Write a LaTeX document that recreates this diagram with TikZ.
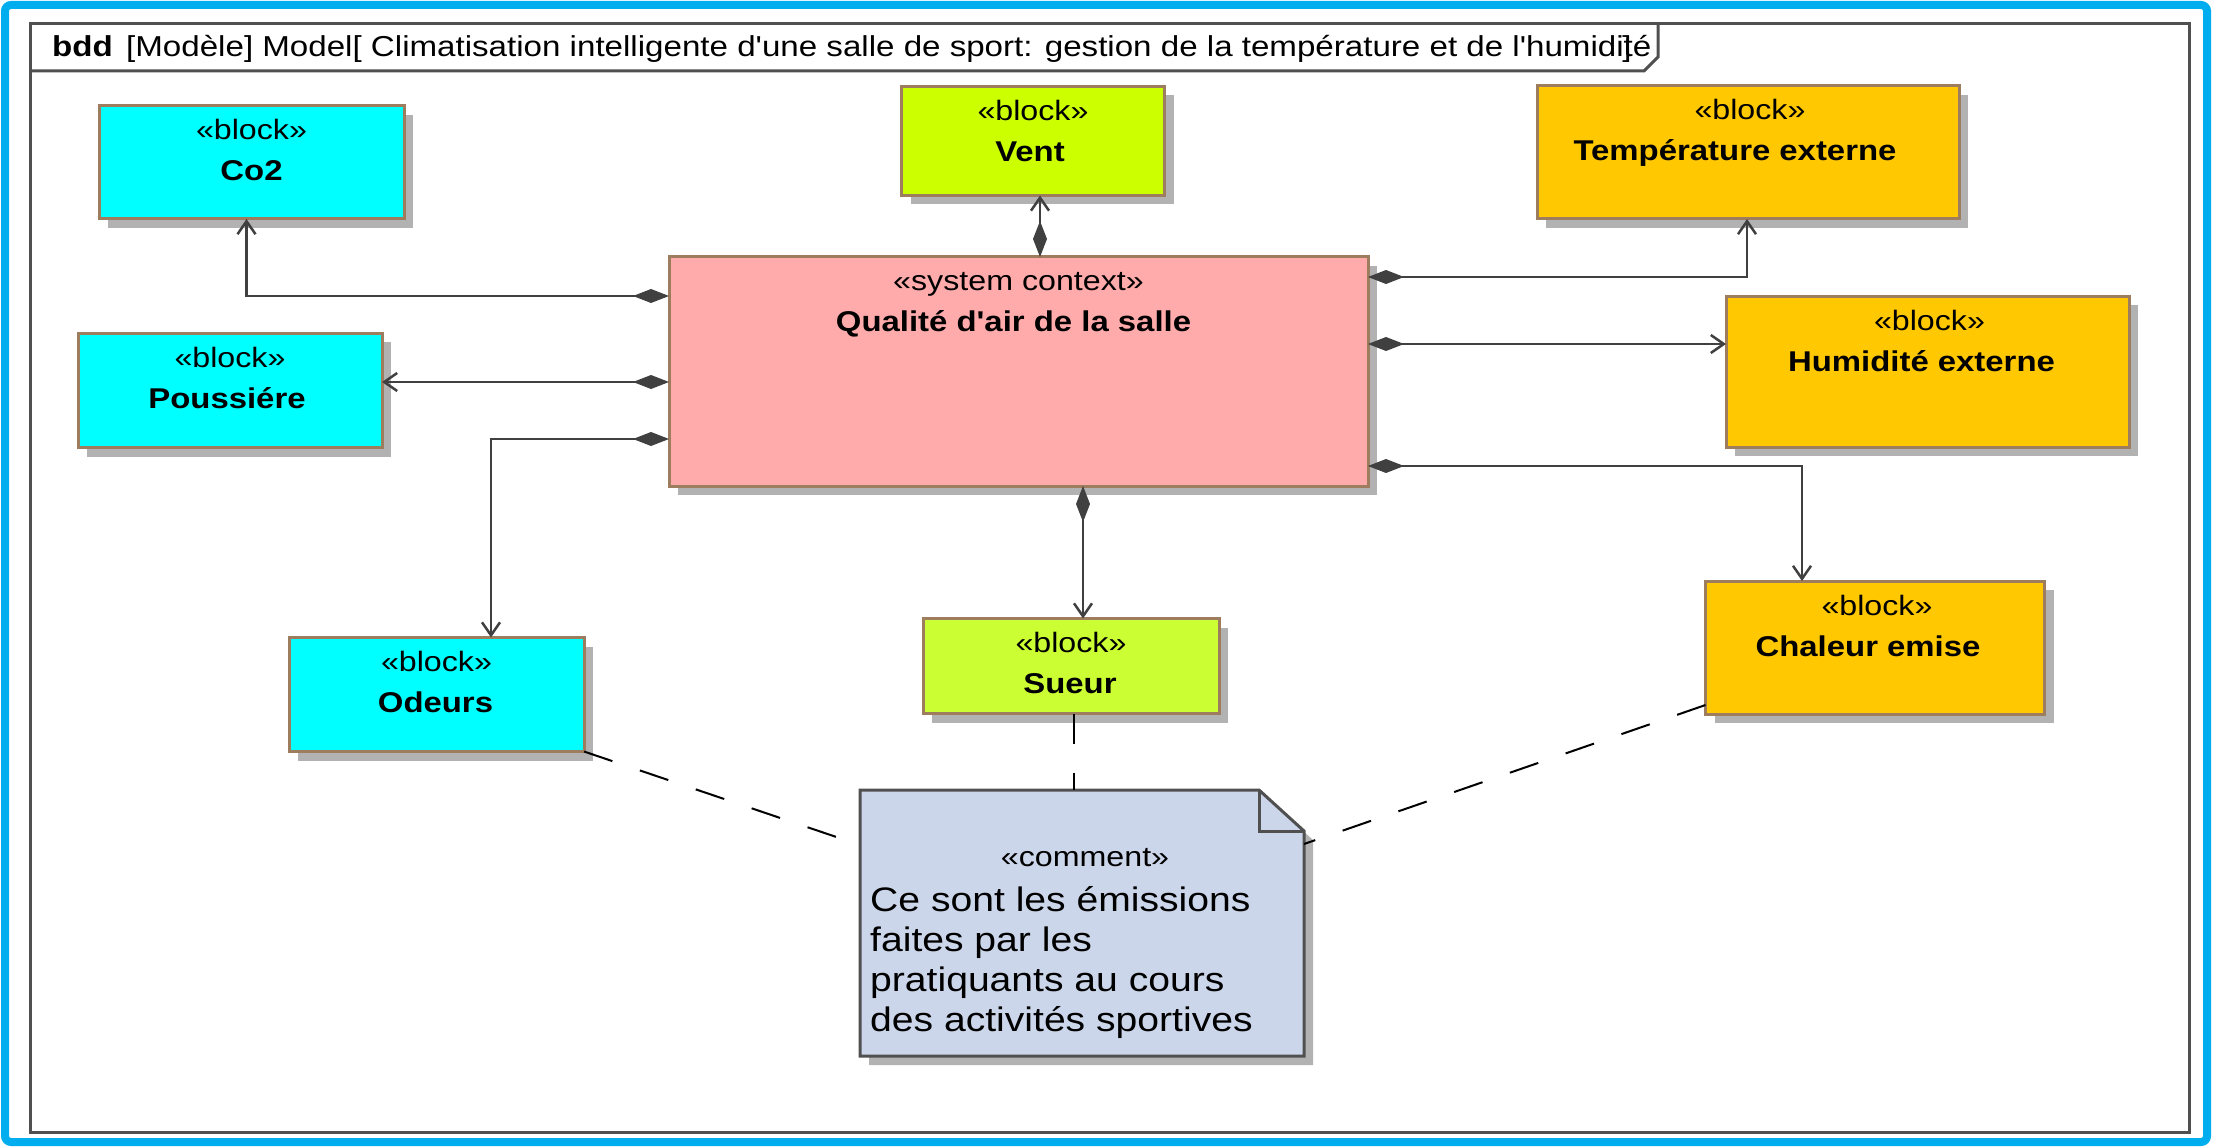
\documentclass[tikz,border=0pt]{standalone}
\usepackage{fontspec}
\newfontfamily\lib[FakeStretch=1.15]{Liberation Sans}
\usetikzlibrary{arrows.meta,calc,shadows}
\definecolor{cyanb}{HTML}{00FFFF}
\definecolor{ventc}{HTML}{CCFF00}
\definecolor{sueurc}{HTML}{CCFF33}
\definecolor{orangec}{HTML}{FFC800}
\definecolor{pinkc}{HTML}{FFABAB}
\definecolor{notec}{HTML}{CCD6EA}
\definecolor{brownc}{HTML}{9E7D5E}
\definecolor{shadowc}{HTML}{B2B2B2}
\definecolor{linec}{HTML}{404040}
\definecolor{bluec}{HTML}{00AEEF}
\definecolor{framec}{HTML}{505050}
\newcommand\fstereo{\lib\fontsize{28}{34}\selectfont}
\newcommand\fname{\lib\bfseries\fontsize{28.6}{34}\selectfont}
\newcommand\ftitle{\lib\fontsize{28.8}{34}\selectfont}
\newcommand\fnote{\lib\fontsize{34}{40}\selectfont}
\begin{document}
\begin{tikzpicture}[x=1pt,y=-1pt,
  block/.style={draw=brownc, line width=3pt, inner sep=0pt, outer sep=0pt,
    drop shadow={shadow xshift=9pt, shadow yshift=-9pt, fill=shadowc, opacity=1}},
  st/.style={inner sep=0pt, anchor=base, font=\fstereo},
  nm/.style={inner sep=0pt, anchor=base, font=\fname},
  compo/.style={draw=linec, line width=2.5pt,
    {Diamond[length=36pt,width=14pt]}-{Straight Barb[length=13pt,width=18pt]}},
  anch/.style={draw=black, line width=2pt, dash pattern=on 30pt off 29pt},
  frame/.style={draw=framec, line width=3pt}
]
\useasboundingbox (0,0) rectangle (2213,1147);
\fill[white] (0,0) rectangle (2213,1147);
\draw[bluec, line width=8pt, rounded corners=6pt] (5,5) rectangle (2207,1142);
\draw[frame] (30,24) rectangle (2189,1132);
\draw[frame] (30,71) -- (1644,71) -- (1658,57) -- (1658,24);
\node[inner sep=0pt, anchor=base west, font=\ftitle\bfseries] (bdd) at (52,57) {bdd};
\node[inner sep=0pt, anchor=base west, font=\ftitle] (title) at (126,57) {[Modèle] Model[ Climatisation intelligente d'une salle de sport: gestion de la température et de l'humidité};
\node[inner sep=0pt, anchor=base, font=\ftitle] (tbr) at (1627,57) {]};

% blocks
\node[block, fill=cyanb, minimum width=305pt, minimum height=113pt] (co2) at (251.5,162.5) {};
\node[block, fill=cyanb, minimum width=304pt, minimum height=114pt] (pouss) at (230,390.5) {};
\node[block, fill=cyanb, minimum width=295pt, minimum height=114pt] (odeurs) at (436.5,694.5) {};
\node[block, fill=ventc, minimum width=263pt, minimum height=109pt] (vent) at (1033,141) {};
\node[block, fill=pinkc, minimum width=699pt, minimum height=229pt] (qual) at (1018.5,371.5) {};
\node[block, fill=sueurc, minimum width=296pt, minimum height=95pt] (sueur) at (1071,666) {};
\node[block, fill=orangec, minimum width=422pt, minimum height=133pt] (temp) at (1748,152.5) {};
\node[block, fill=orangec, minimum width=403pt, minimum height=151pt] (hum) at (1927.5,371.75) {};
\node[block, fill=orangec, minimum width=339pt, minimum height=133pt] (chal) at (1875,647.5) {};

% block texts
\node[st] (co2s) at ($(co2.north)+(0,34)$) {«block»};
\node[nm] (co2n) at ($(co2.north)+(0,75)$) {Co2};
\node[st] (pousss) at ($(pouss.north)+(0,34)$) {«block»};
\node[nm] (poussn) at ($(pouss.north)+(-3,75)$) {Poussiére};
\node[st] (odeurss) at ($(odeurs.north)+(0,34)$) {«block»};
\node[nm] (odeursn) at ($(odeurs.north)+(-1,75)$) {Odeurs};
\node[st] (vents) at ($(vent.north)+(0,34)$) {«block»};
\node[nm] (ventn) at ($(vent.north)+(-3,75)$) {Vent};
\node[st] (quals) at ($(qual.north)+(0,34)$) {«system context»};
\node[nm] (qualn) at ($(qual.north)+(-5,75)$) {Qualité d'air de la salle};
\node[st] (sueurs) at ($(sueur.north)+(0,34)$) {«block»};
\node[nm] (sueurn) at ($(sueur.north)+(-1,75)$) {Sueur};
\node[st] (temps) at ($(temp.north)+(2,34)$) {«block»};
\node[nm] (tempn) at ($(temp.north)+(-13,75)$) {Température externe};
\node[st] (hums) at ($(hum.north)+(2,34)$) {«block»};
\node[nm] (humn) at ($(hum.north)+(-6,75)$) {Humidité externe};
\node[st] (chals) at ($(chal.north)+(2,34)$) {«block»};
\node[nm] (chaln) at ($(chal.north)+(-7,75)$) {Chaleur emise};

% comment note
\node[inner sep=0pt, outer sep=0pt, minimum width=444pt, minimum height=266pt] (note) at (1082,923) {};
\fill[shadowc] ($(note.north west)+(9,9)$) -- ($(note.north east)+(-36,9)$) -- ($(note.north east)+(9,50)$) -- ($(note.south east)+(9,9)$) -- ($(note.south west)+(9,9)$) -- cycle;
\draw[framec, line width=3pt, fill=notec] (note.north west) -- ($(note.north east)+(-45,0)$) -- ($(note.north east)+(0,41)$) -- (note.south east) -- (note.south west) -- cycle;
\draw[framec, line width=3pt] ($(note.north east)+(-45,0)$) -- ($(note.north east)+(-45,41)$) -- ($(note.north east)+(0,41)$);
\node[st] (notes) at ($(note.north)+(3,76)$) {«comment»};
\node[inner sep=0pt, anchor=base west, font=\fnote] (l1) at (870,911) {Ce sont les émissions};
\node[inner sep=0pt, anchor=base west, font=\fnote] (l2) at (870,951) {faites par les};
\node[inner sep=0pt, anchor=base west, font=\fnote] (l3) at (870,991) {pratiquants au cours};
\node[inner sep=0pt, anchor=base west, font=\fnote] (l4) at (870,1031) {des activités sportives};

% anchors (dashed)
\draw[anch] (odeurs.south east) -- ($(note.north west)+(0,55)$);
\draw[anch] ($(sueur.south)+(3,0)$) -- ($(note.north west)+(214,0)$);
\draw[anch] ($(chal.south west)+(0,-9)$) -- ($(note.north east)+(0,54)$);

% connection points
\coordinate (qL1) at ($(qual.north west)+(0,39)$);
\coordinate (qL2) at ($(qual.north west)+(0,125)$);
\coordinate (qL3) at ($(qual.north west)+(0,182)$);
\coordinate (qR1) at ($(qual.north east)+(0,20)$);
\coordinate (qR2) at ($(qual.north east)+(0,87)$);
\coordinate (qR3) at ($(qual.north east)+(0,209)$);
\coordinate (qT) at ($(qual.north west)+(371,0)$);
\coordinate (qB) at ($(qual.south west)+(414,0)$);

\draw[compo] (qL1) -| ($(co2.south)+(-5,0)$);
\draw[compo] (qL2) -- (qL2 -| pouss.east);
\draw[compo] (qL3) -| ($(odeurs.north)+(54.5,0)$);
\draw[compo] (qT) -- (qT |- vent.south);
\draw[compo] (qB) -- (qB |- sueur.north);
\draw[compo] (qR1) -| ($(temp.south)+(-1,0)$);
\draw[compo] (qR2) -- (qR2 -| hum.west);
\draw[compo] (qR3) -| ($(chal.north)+(-73,0)$);
\end{tikzpicture}
\end{document}
